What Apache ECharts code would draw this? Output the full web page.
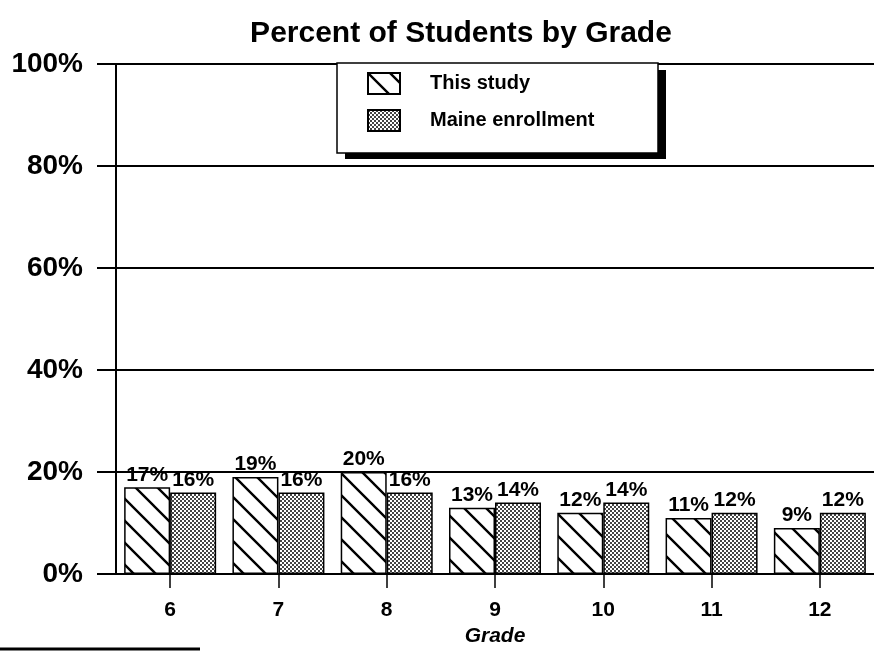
<!DOCTYPE html>
<html>
<head>
<meta charset="utf-8">
<script src="https://cdn.jsdelivr.net/npm/echarts@6/dist/echarts.min.js"></script>
<style>
  html, body { margin: 0; padding: 0; background: #fff; }
  #chart { width: 874px; height: 652px; }
</style>
</head>
<body>
<div id="chart"></div>
<script>
const grades = ['6', '7', '8', '9', '10', '11', '12']
const thisStudy = [17, 19, 20, 13, 12, 11, 9]
const maineEnrollment = [16, 16, 16, 14, 14, 12, 12]
const yTicks = [0, 20, 40, 60, 80, 100]

const font = '"Liberation Sans", Arial, sans-serif'

// diagonal "\" hatch tile
function hatchPattern () {
  const s = 22
  const c = document.createElement('canvas')
  c.width = s
  c.height = s
  const ctx = c.getContext('2d')
  ctx.fillStyle = '#fff'
  ctx.fillRect(0, 0, s, s)
  ctx.strokeStyle = '#000'
  ctx.lineWidth = 2.4
  ctx.beginPath()
  ctx.moveTo(-s, -s); ctx.lineTo(2 * s, 2 * s)
  ctx.moveTo(-s, 0); ctx.lineTo(s, 2 * s)
  ctx.moveTo(0, -s); ctx.lineTo(2 * s, s)
  ctx.stroke()
  return c
}

// stipple dot tile
function dotPattern () {
  const c = document.createElement('canvas')
  c.width = 4
  c.height = 4
  const ctx = c.getContext('2d')
  ctx.fillStyle = '#fff'
  ctx.fillRect(0, 0, 4, 4)
  ctx.fillStyle = '#444'
  ctx.fillRect(0, 0, 2, 2)
  ctx.fillRect(2, 2, 2, 2)
  return c
}

const chart = echarts.init(document.getElementById('chart'), null, { renderer: 'canvas' })

const labelStyle = {
  show: true,
  position: 'top',
  distance: 2,
  color: '#000',
  fontFamily: font,
  fontWeight: 'bold',
  fontSize: 21,
  formatter: '{c}%'
}

chart.setOption({
  animation: false,
  backgroundColor: '#fff',
  title: {
    text: 'Percent of Students by Grade',
    left: 456,
    textAlign: 'center',
    top: 14,
    textStyle: {
      fontFamily: font,
      fontWeight: 'bold',
      fontSize: 30,
      color: '#000'
    }
  },
  legend: {
    z: 20,
    orient: 'vertical',
    left: 337,
    top: 63,
    padding: [9, 55, 20, 30],
    itemWidth: 32,
    itemHeight: 21,
    itemGap: 14,
    icon: 'rect',
    textStyle: {
      fontFamily: font,
      fontWeight: 'bold',
      fontSize: 20,
      color: '#000',
      padding: [0, 0, 0, 25]
    },
    data: ['This study', 'Maine enrollment']
  },
  grid: {
    left: 116,
    top: 64,
    width: 767,
    bottom: 78
  },
  xAxis: {
    type: 'category',
    data: grades,
    boundaryGap: true,
    name: 'Grade',
    nameLocation: 'middle',
    nameGap: 47,
    nameTextStyle: {
      fontFamily: font,
      fontWeight: 'bold',
      fontStyle: 'italic',
      fontSize: 21,
      color: '#000'
    },
    axisLine: { show: true, lineStyle: { color: '#000', width: 2 } },
    axisTick: { show: true, alignWithLabel: true, length: 14, lineStyle: { color: '#000', width: 1.5 } },
    axisLabel: {
      margin: 26,
      fontFamily: font,
      fontWeight: 'bold',
      fontSize: 21,
      color: '#000'
    },
    splitLine: { show: false }
  },
  yAxis: {
    type: 'value',
    min: yTicks[0],
    max: yTicks[yTicks.length - 1],
    interval: yTicks[1] - yTicks[0],
    axisLine: { show: true, lineStyle: { color: '#000', width: 2 } },
    axisTick: { show: true, length: 19, lineStyle: { color: '#000', width: 2 } },
    axisLabel: {
      margin: 33,
      formatter: '{value}%',
      fontFamily: font,
      fontWeight: 'bold',
      fontSize: 28,
      color: '#000'
    },
    splitLine: { show: true, lineStyle: { color: '#000', width: 2 } }
  },
  graphic: [
    // legend frame with its drop shadow
    {
      type: 'rect',
      z: 10,
      shape: { x: 345, y: 70, width: 321, height: 89 },
      style: { fill: '#000' }
    },
    {
      type: 'rect',
      z: 11,
      shape: { x: 337, y: 63, width: 321, height: 90 },
      style: { fill: '#fff', stroke: '#000', lineWidth: 1.5 }
    },
    {
      type: 'line',
      shape: { x1: 0, y1: 649, x2: 200, y2: 649 },
      style: { stroke: '#000', lineWidth: 3 }
    }
  ],
  series: [
    {
      name: 'This study',
      type: 'bar',
      barWidth: 46,
      barGap: '0%',
      data: thisStudy,
      itemStyle: {
        color: { image: hatchPattern(), repeat: 'repeat' },
        borderColor: '#000',
        borderWidth: 1.5
      },
      label: labelStyle
    },
    {
      name: 'Maine enrollment',
      type: 'bar',
      barWidth: 46,
      barGap: '0%',
      data: maineEnrollment,
      itemStyle: {
        color: { image: dotPattern(), repeat: 'repeat' },
        borderColor: '#000',
        borderWidth: 1.5
      },
      label: labelStyle
    }
  ]
})
</script>
</body>
</html>
